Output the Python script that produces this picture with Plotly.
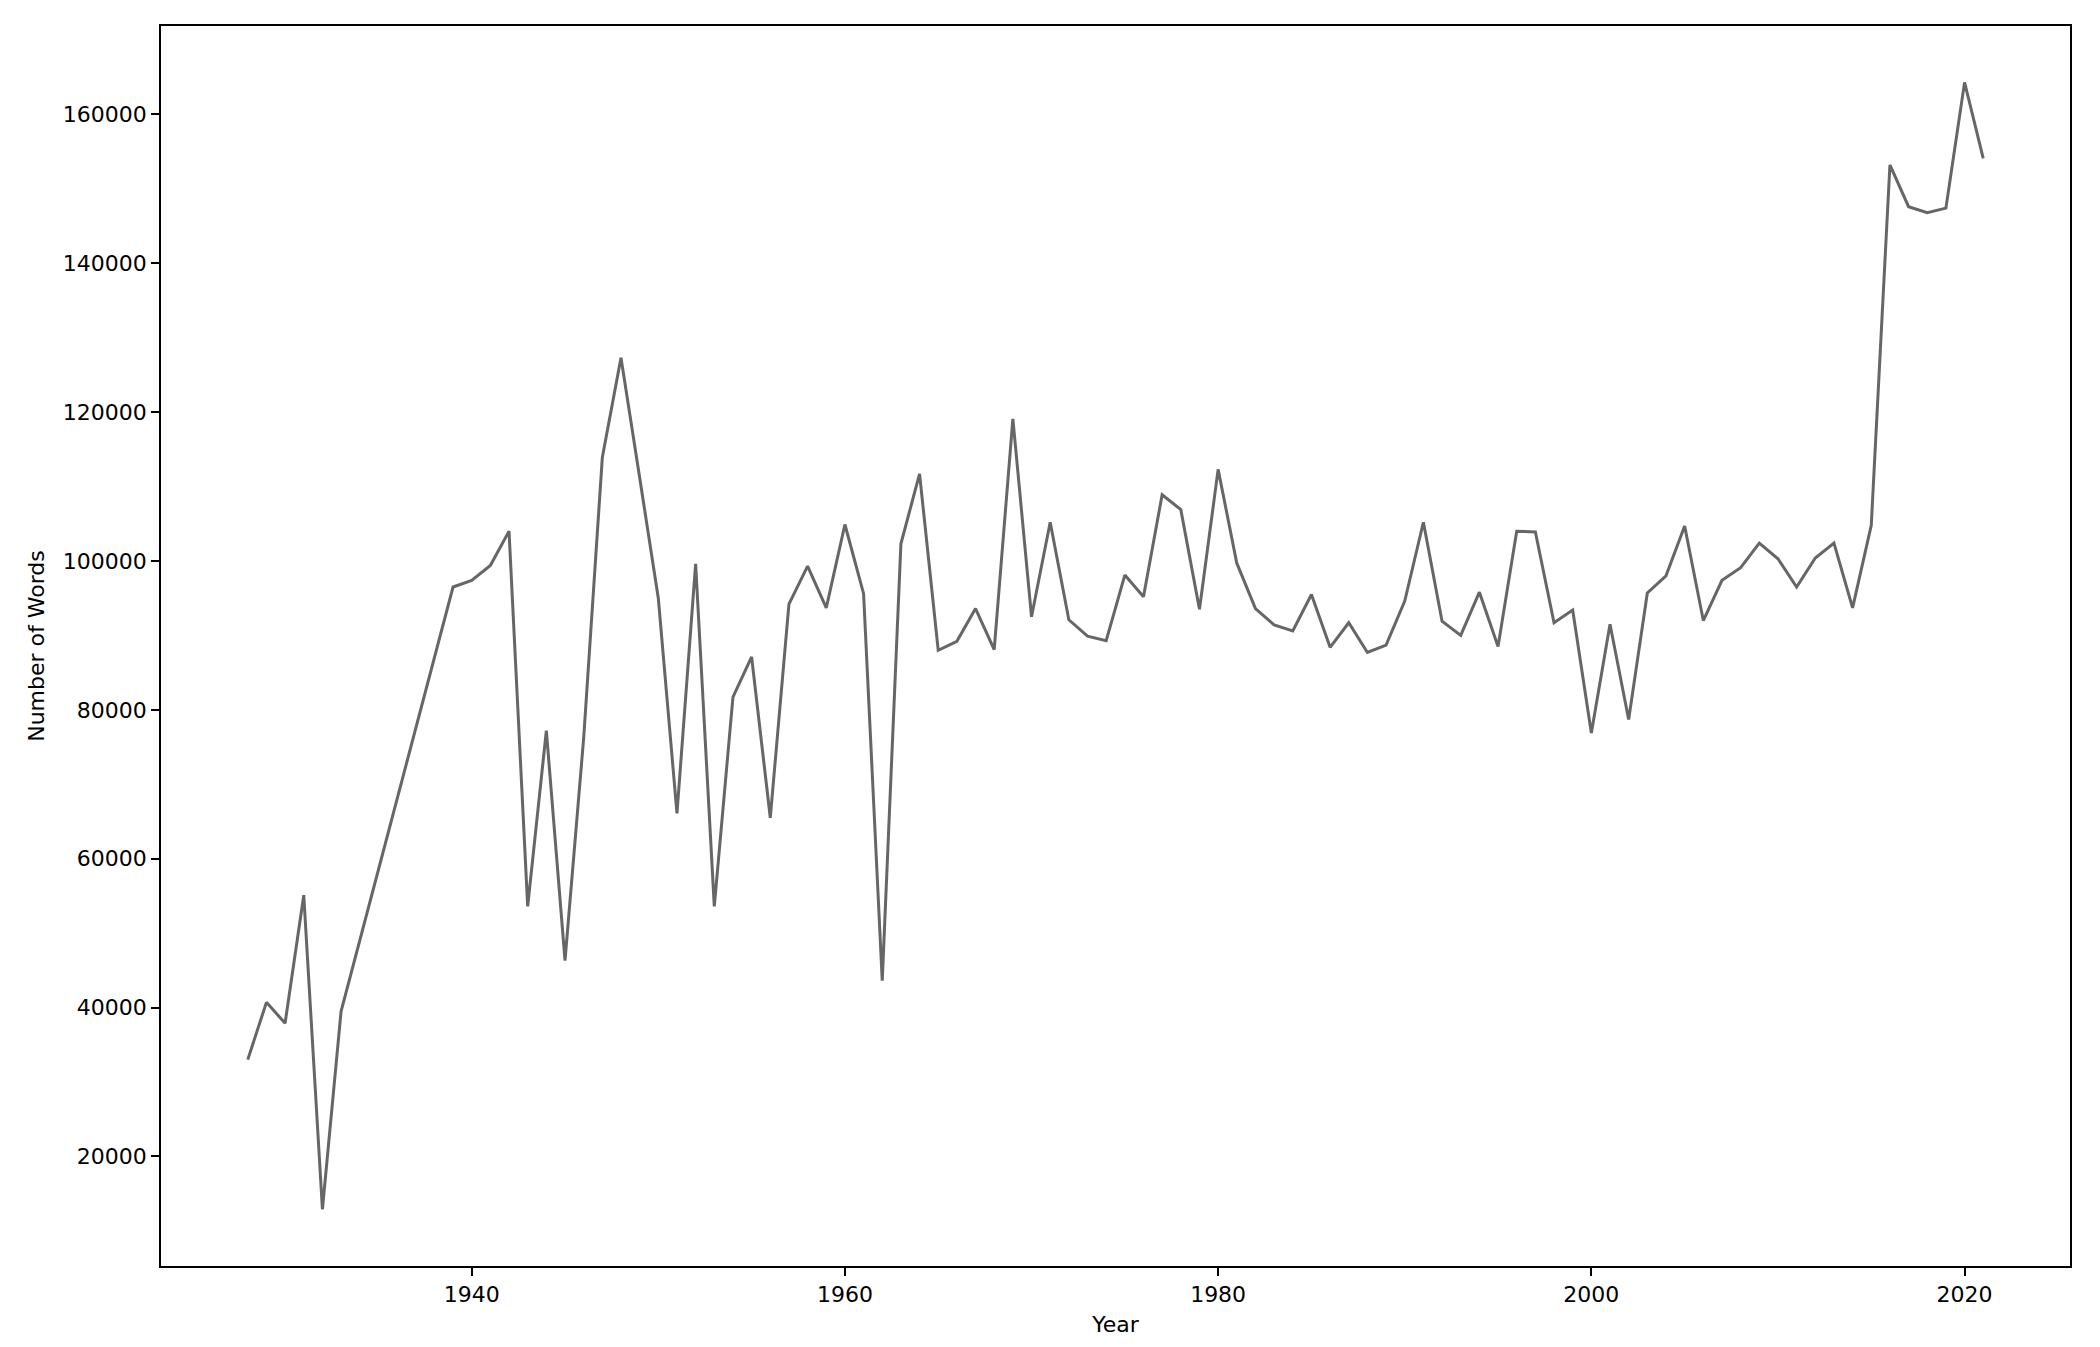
import plotly.graph_objects as go

years = [1928, 1929, 1930, 1931, 1932, 1933,
         1939, 1940, 1941, 1942, 1943, 1944, 1945, 1946, 1947, 1948, 1949,
         1950, 1951, 1952, 1953, 1954, 1955, 1956, 1957, 1958, 1959,
         1960, 1961, 1962, 1963, 1964, 1965, 1966, 1967, 1968, 1969,
         1970, 1971, 1972, 1973, 1974, 1975, 1976, 1977, 1978, 1979,
         1980, 1981, 1982, 1983, 1984, 1985, 1986, 1987, 1988, 1989,
         1990, 1991, 1992, 1993, 1994, 1995, 1996, 1997, 1998, 1999,
         2000, 2001, 2002, 2003, 2004, 2005, 2006, 2007, 2008, 2009,
         2010, 2011, 2012, 2013, 2014, 2015, 2016, 2017, 2018, 2019,
         2020, 2021]

words = [33000, 40700, 37900, 55100, 12900, 39500,
         96500, 97400, 99400, 104000, 53600, 77200, 46300, 76200, 113900, 127300, 111200,
         95000, 66100, 99600, 53600, 81700, 87100, 65500, 94200, 99300, 93700,
         104900, 95600, 43600, 102300, 111700, 88000, 89200, 93600, 88100, 119100,
         92500, 105200, 92100, 89900, 89300, 98100, 95200, 108900, 106900, 93500,
         112300, 99700, 93600, 91400, 90600, 95500, 88400, 91700, 87700, 88700,
         94600, 105200, 91900, 90000, 95800, 88500, 104000, 103900, 91700, 93400,
         76900, 91500, 78700, 95700, 98000, 104700, 92000, 97400, 99100, 102400,
         100300, 96500, 100400, 102400, 93700, 104800, 153200, 147600, 146800, 147400,
         164300, 154100]

y_ticks = [20000, 40000, 60000, 80000, 100000, 120000, 140000, 160000]
x_ticks = [1940, 1960, 1980, 2000, 2020]

fig = go.Figure()
fig.add_trace(go.Scatter(
    x=years, y=words, mode="lines",
    line=dict(color="#666666", width=3),
    showlegend=False,
))

font = dict(family="DejaVu Sans", size=22, color="black")

fig.update_layout(
    width=2100, height=1347,
    margin=dict(l=161, r=30, t=26, b=81),
    paper_bgcolor="white", plot_bgcolor="white",
    font=font,
)

fig.update_xaxes(
    range=[1923.35, 2025.65],
    tickvals=x_ticks, ticktext=[str(v) for v in x_ticks],
    ticks="outside", ticklen=8, tickwidth=1.6, tickcolor="black",
    showline=True, linecolor="black", linewidth=1.6, mirror=True,
    showgrid=False, zeroline=False,
    title=dict(text="Year", standoff=10, font=font),
    tickfont=font,
)
fig.update_yaxes(
    range=[5278, 171872],
    tickvals=y_ticks, ticktext=[str(v) for v in y_ticks],
    ticks="outside", ticklen=8, tickwidth=1.6, tickcolor="black",
    showline=True, linecolor="black", linewidth=1.6, mirror=True,
    showgrid=False, zeroline=False,
    title=dict(text="Number of Words", standoff=12, font=font),
    tickfont=font,
)

fig.write_html("out.html", config={"displayModeBar": False},
               post_script="document.body.style.margin='0';")
